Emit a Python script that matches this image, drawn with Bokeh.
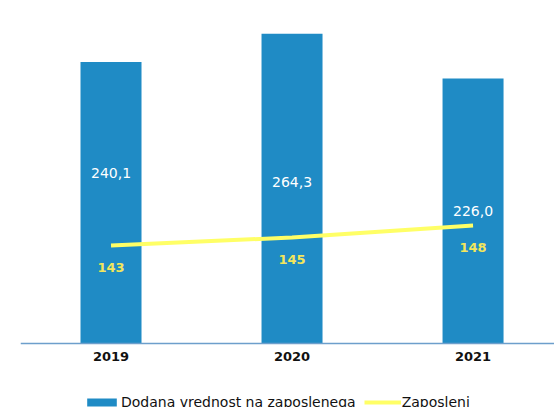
from bokeh.plotting import figure
from bokeh.models import (ColumnDataSource, Range1d, Span,
                          Legend, LegendItem, LabelSet)
from bokeh.core.properties import value
from bokeh.embed import file_html
from bokeh.resources import INLINE

# ---- data ----
years = ["2019", "2020", "2021"]
value_added = [240.1, 264.3, 226.0]
employees = [143, 145, 148]
value_labels = ["240,1", "264,3", "226,0"]
employee_labels = ["143", "145", "148"]

# styling (pixel offsets for labels)
value_label_offsets = [30, 7, 0]

xs = [i + 0.5 for i in range(len(years))]
src = ColumnDataSource(dict(
    x=xs, v=value_added, mid=[v / 2 for v in value_added], e=employees,
    vl=value_labels, el=employee_labels, voff=value_label_offsets,
    yr=years, zero=[0] * len(years),
))

BAR = "#1f8bc5"
YEL = "#ffff66"
FONT = "DejaVu Sans"

p = figure(width=554, height=407, output_backend="svg", toolbar_location=None,
           x_range=Range1d(0, 2.95), y_range=Range1d(-54.6, 292.6),
           x_axis_location=None, y_axis_location=None,
           min_border_left=20, min_border_right=0, min_border_top=0,
           min_border_bottom=0, outline_line_color=None)
p.extra_y_ranges = {"emp": Range1d(102.5, 204.25)}
p.grid.visible = False

bars = p.vbar(x="x", top="v", width=0.337, source=src, fill_color=BAR,
              line_color=None)
line = p.line(x="x", y="e", source=src, y_range_name="emp", line_color=YEL,
              line_width=4)

# category axis line and labels
p.add_layout(Span(location=0, dimension="width", line_color="#6d9fcc",
                  line_width=1.5))
p.add_layout(LabelSet(x="x", y="zero", text="yr", source=src, y_offset=-13,
                      text_align="center", text_baseline="middle",
                      text_color="#111111", text_font=value(FONT),
                      text_font_style="bold", text_font_size="13px"))

p.add_layout(LabelSet(x="x", y="mid", text="vl", source=src, y_offset="voff",
                      text_align="center", text_baseline="middle",
                      text_color="white", text_font=value(FONT),
                      text_font_size="14px"))
p.add_layout(LabelSet(x="x", y="e", text="el", source=src, y_range_name="emp",
                      y_offset=-22, text_align="center", text_baseline="middle",
                      text_color="#f2e65c", text_font=value(FONT),
                      text_font_style="bold", text_font_size="13px"))

legend = Legend(items=[LegendItem(label="Dodana vrednost na zaposlenega", renderers=[bars]),
                       LegendItem(label="Zaposleni", renderers=[line])],
                orientation="horizontal", location=(63, -3),
                glyph_width=37, glyph_height=10, label_text_font=FONT,
                label_text_font_size="14px", label_standoff=1, spacing=8,
                padding=0, margin=0, border_line_color=None,
                background_fill_alpha=0,
                label_text_color="#111111")
p.add_layout(legend)

html = file_html(p, INLINE)
open("out.html", "w").write(html)
